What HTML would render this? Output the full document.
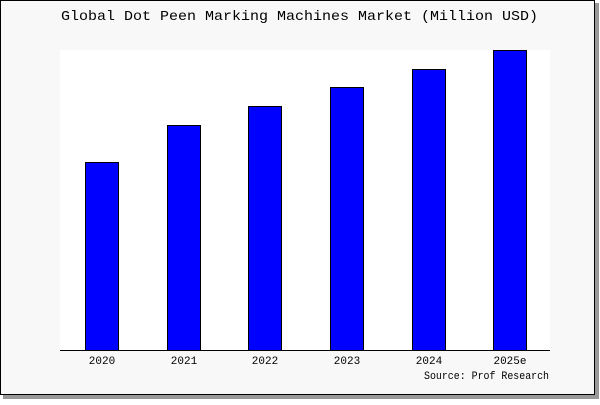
<!DOCTYPE html>
<html><head><style>
body{margin:0;width:600px;height:400px;background:#fff;overflow:hidden}
</style></head><body>
<svg width="600" height="400" xmlns="http://www.w3.org/2000/svg" font-family="Liberation Mono, DejaVu Sans Mono, monospace">
<rect x="3" y="3" width="596" height="396" fill="#999"/>
<rect x="0.5" y="0.5" width="594" height="394" fill="#f8f8f8" stroke="#000"/>
<text x="61" y="20" font-size="14" textLength="477" lengthAdjust="spacingAndGlyphs" fill="#000">Global Dot Peen Marking Machines Market (Million USD)</text>
<rect x="60" y="50" width="490" height="300" fill="#fff"/>
<g fill="#0000ff" stroke="#000" stroke-width="1">
<rect x="85.5" y="162.5" width="33" height="188"/>
<rect x="167.5" y="125.5" width="33" height="225"/>
<rect x="248.5" y="106.5" width="33" height="244"/>
<rect x="330.5" y="87.5" width="33" height="263"/>
<rect x="412.5" y="69.5" width="33" height="281"/>
<rect x="493.5" y="50.5" width="33" height="300"/>
</g>
<line x1="60" y1="350.5" x2="550" y2="350.5" stroke="#000"/>
<g font-size="11" text-anchor="middle" fill="#000">
<text x="102" y="364">2020</text>
<text x="184" y="364">2021</text>
<text x="265" y="364">2022</text>
<text x="347" y="364">2023</text>
<text x="429" y="364">2024</text>
<text x="510" y="364">2025e</text>
</g>
<text x="424" y="379" font-size="11" textLength="125" lengthAdjust="spacingAndGlyphs" fill="#000">Source: Prof Research</text>
</svg>
</body></html>
